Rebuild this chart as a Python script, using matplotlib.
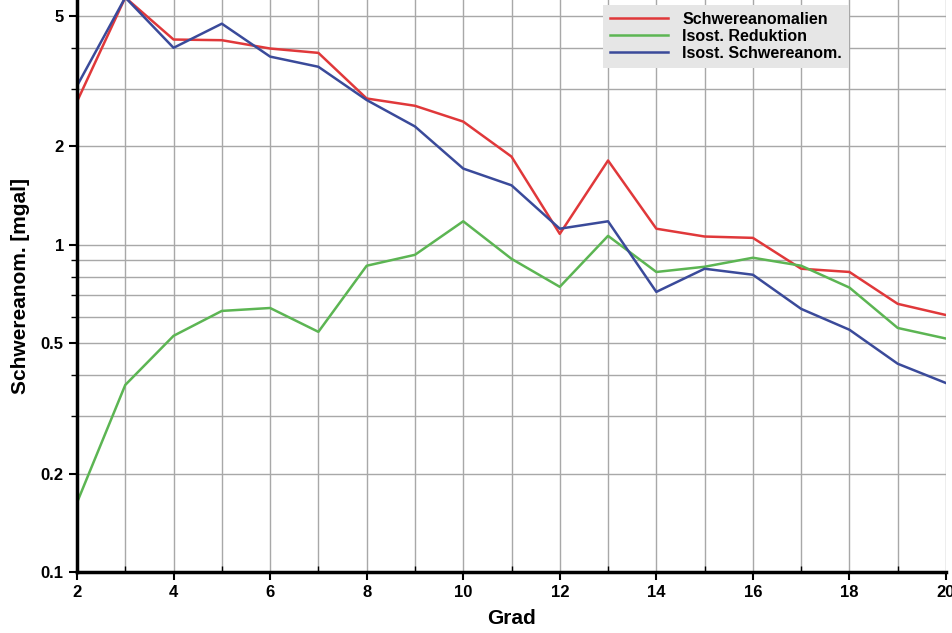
import matplotlib
matplotlib.use('Agg')
import matplotlib.pyplot as plt
from matplotlib.ticker import FixedLocator, NullFormatter

plt.rcParams['font.family'] = ['Liberation Sans', 'DejaVu Sans']
plt.rcParams['font.weight'] = 'bold'

# Daten
grad = [2, 3, 4, 5, 6, 7, 8, 9, 10, 11, 12, 13, 14, 15, 16, 17, 18, 19, 20]
schwere = [2.74, 5.7, 4.24, 4.22, 3.98, 3.86, 2.80, 2.66, 2.38, 1.86, 1.08, 1.81,
           1.12, 1.06, 1.05, 0.845, 0.826, 0.66, 0.61]
isost_red = [0.163, 0.373, 0.527, 0.628, 0.641, 0.542, 0.863, 0.932, 1.18, 0.906,
             0.744, 1.065, 0.826, 0.857, 0.913, 0.863, 0.74, 0.557, 0.517]
isost_schwere = [3.06, 5.7, 4.0, 4.74, 3.76, 3.5, 2.77, 2.30, 1.71, 1.52, 1.12, 1.18,
                 0.718, 0.845, 0.81, 0.637, 0.55, 0.433, 0.378]

y_major = [0.1, 0.2, 0.5, 1, 2, 5]
y_minor = [0.3, 0.4, 0.6, 0.7, 0.8, 0.9, 3, 4]
x_major = [2, 4, 6, 8, 10, 12, 14, 16, 18, 20]
x_minor = [3, 5, 7, 9, 11, 13, 15, 17, 19]

fig = plt.figure(figsize=(9.52, 6.33), dpi=100)
ax = fig.add_axes([77 / 952, 61 / 633, 869 / 952, 572 / 633])

ax.plot(grad, schwere, color='#e0383a', lw=1.8, label='Schwereanomalien')
ax.plot(grad, isost_red, color='#5cb553', lw=1.8, label='Isost. Reduktion')
ax.plot(grad, isost_schwere, color='#3a4a9a', lw=1.8, label='Isost. Schwereanom.')

ax.set_yscale('log')
ax.set_ylim(0.1, 5.6)
ax.set_xlim(2, 20)

ax.yaxis.set_major_locator(FixedLocator(y_major))
ax.yaxis.set_minor_locator(FixedLocator(y_minor))
ax.set_yticklabels(['0.1', '0.2', '0.5', '1', '2', '5'])
ax.yaxis.set_minor_formatter(NullFormatter())
ax.xaxis.set_major_locator(FixedLocator(x_major))
ax.xaxis.set_minor_locator(FixedLocator(x_minor))

ax.grid(which='both', color='#a8a8a8', lw=1)
ax.set_axisbelow(True)

for s in ['top', 'right']:
    ax.spines[s].set_visible(False)
for s in ['left', 'bottom']:
    ax.spines[s].set_linewidth(2.5)

ax.tick_params(which='major', length=6, width=1.5, labelsize=12)
ax.tick_params(axis='y', which='minor', length=4, width=1, direction='out')
ax.tick_params(axis='x', which='minor', length=4, width=1, direction='in')

ax.set_xlabel('Grad', fontsize=15, fontweight='bold', labelpad=6)
ax.set_ylabel('Schwereanom. [mgal]', fontsize=15, fontweight='bold', labelpad=8)

leg = ax.legend(loc='upper left', bbox_to_anchor=(0.600, 1.0), fontsize=11.5,
                frameon=True, fancybox=False, facecolor='#e6e6e6', edgecolor='none',
                framealpha=1, handlelength=3.6, borderpad=0.45, labelspacing=0.12,
                handletextpad=0.9, borderaxespad=0.3)
for t in leg.get_texts():
    t.set_fontweight('bold')

fig.savefig('out.png', dpi=100)
